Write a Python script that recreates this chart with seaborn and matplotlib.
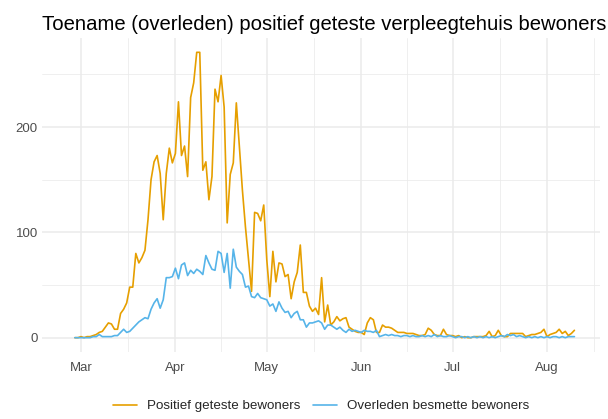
import pandas as pd
import matplotlib
matplotlib.use("Agg")
import matplotlib.pyplot as plt
import matplotlib.dates as mdates
from matplotlib.ticker import FixedLocator
import seaborn as sns

# daily values, 28 Feb - 10 Aug 2020
start_date = "2020-02-28"
end_date = "2020-08-10"

positief = [
    0, 0, 1, 0, 1, 1, 2, 3, 5, 6, 10, 14, 13, 8, 8, 23, 27, 33, 48, 48,
    80, 71, 76, 83, 112, 150, 167, 173, 156, 112, 156, 180, 166, 175, 224, 173, 182, 153, 228, 242,
    271, 271, 159, 167, 131, 153, 236, 224, 249, 219, 109, 155, 166, 223, 181, 140, 105, 74, 44, 119,
    118, 111, 126, 74, 39, 82, 53, 71, 70, 58, 60, 37, 53, 62, 88, 43, 43, 30, 25, 28,
    22, 57, 15, 31, 12, 15, 20, 16, 18, 19,
    10, 8, 6, 5, 5, 3, 14, 19, 17, 5, 5, 12, 10, 10, 9, 7, 5, 5, 5, 4,
    4, 4, 3, 2, 2, 3, 9, 7, 3, 2, 2, 8, 3, 2, 2, 1, 2,
    0, 1, 0, 0, 1, 1, 1, 1, 2, 6, 1, 2, 7, 2, 1, 1, 4, 4, 4, 4,
    4, 1, 2, 3, 3, 4, 5, 8, 1, 3, 4, 5, 8, 4, 6, 2, 4, 7,
]

overleden = [
    0, 0, 0, 0, 0, 0, 1, 1, 3, 1, 1, 1, 1, 2, 2, 5, 8, 5, 6, 9,
    12, 15, 17, 19, 18, 27, 33, 37, 28, 36, 57, 57, 58, 66, 56, 69, 71, 59, 64, 61,
    65, 63, 60, 78, 71, 65, 64, 82, 80, 62, 80, 47, 84, 67, 63, 60, 48, 49, 39, 38,
    42, 38, 37, 36, 30, 32, 25, 34, 28, 24, 25, 19, 23, 25, 17, 17, 10, 14, 14, 15,
    16, 14, 8, 12, 12, 10, 8, 10, 7, 5,
    8, 6, 7, 6, 5, 7, 6, 6, 5, 7, 1, 2, 3, 2, 3, 2, 2, 1, 2, 2,
    1, 2, 1, 1, 2, 1, 2, 1, 3, 1, 2, 1, 1, 2, 1, 0, 1,
    1, 0, 1, 0, 1, 0, 1, 0, 1, 0, 1, 0, 1, 2, 1, 3, 2, 3, 1, 2,
    1, 0, 1, 0, 1, 0, 1, 0, 1, 0, 1, 1, 0, 1, 0, 1, 1, 1,
]

reeksen = ["Positief geteste bewoners", "Overleden besmette bewoners"]
kleuren = ["#E69F00", "#56B4E9"]

datums = pd.date_range(start_date, end_date, freq="D")
assert len(datums) == len(positief) == len(overleden)

df = pd.concat([
    pd.DataFrame({"datum": datums, "aantal": positief, "reeks": reeksen[0]}),
    pd.DataFrame({"datum": datums, "aantal": overleden, "reeks": reeksen[1]}),
])

sns.set_theme(style="white")
plt.rcParams["font.family"] = ["Liberation Sans", "DejaVu Sans"]

fig = plt.figure(figsize=(6.08, 4.19), dpi=100)
ax = fig.add_axes([42 / 608, 67 / 419, 558 / 608, 314 / 419])

sns.lineplot(data=df, x="datum", y="aantal", hue="reeks", hue_order=reeksen,
             palette=kleuren, linewidth=1.2, ax=ax)

# axis limits (ggplot style expansion)
x0 = pd.Timestamp("2020-03-01")
ax.set_xlim(mdates.date2num(x0) - 12.8, mdates.date2num(x0) + 170.4)
ax.set_ylim(-13.6, 284.6)

# month ticks and mid-month minor grid
maanden = pd.date_range("2020-03-01", "2020-08-01", freq="MS")
grenzen = pd.date_range("2020-02-01", "2020-09-01", freq="MS")
midden = grenzen[:-1] + (grenzen[1:] - grenzen[:-1]) / 2
ax.set_xticks(mdates.date2num(maanden))
ax.set_xticklabels([m.strftime("%b") for m in maanden])
ax.xaxis.set_minor_locator(FixedLocator(mdates.date2num(midden)))
ax.set_yticks([0, 100, 200])
ax.yaxis.set_minor_locator(FixedLocator([50, 150, 250]))

ax.grid(True, which="major", color="#EBEBEB", linewidth=1.1)
ax.grid(True, which="minor", color="#EBEBEB", linewidth=0.55)
ax.set_axisbelow(True)
for s in ax.spines.values():
    s.set_visible(False)
ax.tick_params(axis="both", which="both", length=0, labelsize=9.5, labelcolor="#4D4D4D")
ax.tick_params(axis="x", pad=7)
ax.tick_params(axis="y", pad=3)
ax.set_xlabel("")
ax.set_ylabel("")

ax.set_title("Toename (overleden) positief geteste verpleegtehuis bewoners",
             loc="left", fontsize=14.6, color="black", pad=6, x=0.0)

leg = ax.legend(loc="upper center", bbox_to_anchor=(0.5, -0.115), ncol=2, frameon=False,
                fontsize=9.6, handlelength=1.8, columnspacing=1.0, handletextpad=0.7)
for line in leg.get_lines():
    line.set_linewidth(1.2)

fig.savefig("out.png", dpi=100)
